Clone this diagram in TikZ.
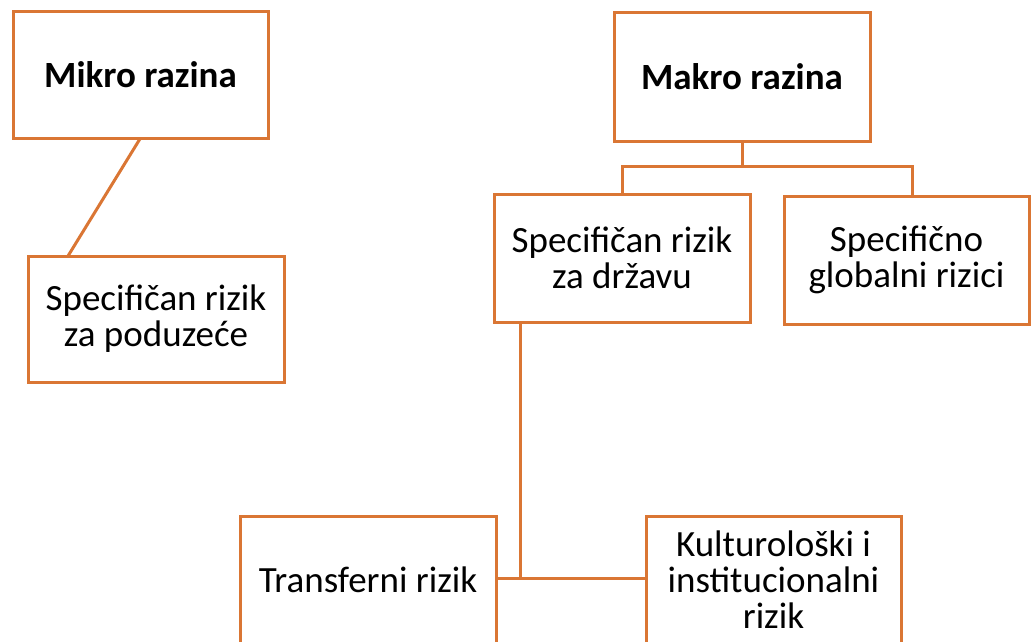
\documentclass[tikz,border=0pt]{standalone}
\usepackage{fontspec}
\setmainfont{Carlito}
\usetikzlibrary{calc}
\definecolor{ln}{RGB}{218,118,52}
\begin{document}
\begin{tikzpicture}[x=1pt,y=-1pt,
  box/.style={draw=ln,line width=3pt,rectangle,inner sep=0pt,outer sep=0pt,
    align=center,font=\fontsize{37}{36}\selectfont,text=black},
  conn/.style={draw=ln,line width=3pt}]
\useasboundingbox (0,0) rectangle (1031,642);
\clip (0,0) rectangle (1031,642);
\node[box,minimum width=255pt,minimum height=126pt,font=\fontsize{37}{36}\selectfont\bfseries] (mik) at (140.5,75) {Mikro razina};
\node[box,minimum width=256pt,minimum height=128pt,font=\fontsize{37}{36}\selectfont\bfseries] (mak) at (742,77) {Makro razina};
\node[box,minimum width=256pt,minimum height=126pt] (pod) at (156,319) {Specifičan rizik\\za poduzeće};
\node[box,minimum width=256pt,minimum height=128pt] (drz) at (622,258) {Specifičan rizik\\za državu};
\node[box,minimum width=245pt,minimum height=128pt] (glo) at (906.5,260) {Specifično\\globalni rizici};
\node[box,minimum width=256pt,minimum height=128pt] (tr) at (368,580) {Transferni rizik};
\node[box,minimum width=255pt,minimum height=128pt] (kul) at (773.5,580) {Kulturološki i\\institucionalni\\rizik};
% connectors
\coordinate (pj) at ($(pod.north west)+(40,0)$);
\draw[conn] (mik.south) -- (pj);
\coordinate (mj) at (742,166);
\coordinate (gx) at (912,0);
\draw[conn] (mak.south) -- (mj);
\draw[conn] (drz.north) |- (mj) -| (glo.north -| gx);
\coordinate (dj) at (520,578);
\draw[conn] (drz.south west -| dj) -- (dj);
\draw[conn] (tr.east |- dj) -- (kul.west |- dj);
\end{tikzpicture}
\end{document}
